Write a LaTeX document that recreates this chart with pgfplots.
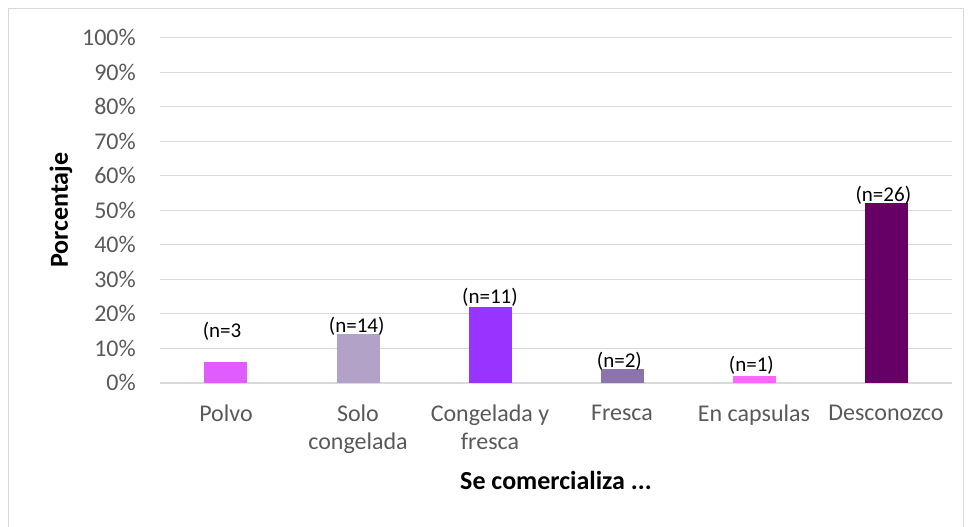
\documentclass[border=0pt]{standalone}
\usepackage{pgfplots}
\pgfplotsset{compat=1.18}
\usepackage{fontspec}
\setmainfont{Carlito}
\definecolor{cPolvo}{HTML}{E05CFF}
\definecolor{cSolo}{HTML}{B3A2C7}
\definecolor{cCong}{HTML}{9933FF}
\definecolor{cFres}{HTML}{8E74AD}
\definecolor{cCaps}{HTML}{FF66FF}
\definecolor{cDesc}{HTML}{660066}
\definecolor{gridc}{HTML}{D9D9D9}
\definecolor{tickc}{HTML}{595959}
\begin{document}
\begin{tikzpicture}[x=1bp,y=1bp]
\useasboundingbox (-160,-144.3) rectangle (811,382.7);
\draw[gridc, line width=1.2bp] (-151.5,-144.3) -- (-151.5,374) -- (803.5,374) -- (803.5,-144.3);
\begin{axis}[
  at={(0,0)}, anchor=south west,
  scale only axis, width=792bp, height=345bp,
  ymin=0, ymax=100, xmin=-0.5, xmax=5.5,
  ytick={0,10,...,100},
  yticklabels={0\%,10\%,20\%,30\%,40\%,50\%,60\%,70\%,80\%,90\%,100\%},
  xtick={0,1,2,3,4,5},
  xticklabels={Polvo, Solo\\congelada, Congelada y\\fresca, Fresca, En capsulas, Desconozco},
  major tick length=0,
  ymajorgrids, grid style={gridc, line width=1.2bp},
  axis x line*=bottom,
  axis y line*=left,
  x axis line style={draw=gridc, line width=1.8bp, -},
  y axis line style={draw=none},
  yticklabel style={anchor=east, inner sep=0pt, xshift=-24bp, text=tickc, font=\fontsize{24bp}{28bp}\selectfont},
  xticklabel style={anchor=north, inner sep=0pt, yshift=-22bp, text=tickc, align=center, font=\fontsize{24bp}{27.5bp}\selectfont},
  ybar, bar width=43bp,
  clip=false,
]
\addplot[fill=cPolvo, draw=none, bar shift=0pt] coordinates {(0,6)};
\addplot[fill=cSolo, draw=none, bar shift=0pt] coordinates {(1,14)};
\addplot[fill=cCong, draw=none, bar shift=0pt] coordinates {(2,22)};
\addplot[fill=cFres, draw=none, bar shift=0pt] coordinates {(3,4)};
\addplot[fill=cCaps, draw=none, bar shift=0pt] coordinates {(4,2)};
\addplot[fill=cDesc, draw=none, bar shift=0pt] coordinates {(5,52)};
\begin{scope}[every node/.style={anchor=base, inner sep=0pt, font=\fontsize{21bp}{25bp}\selectfont}]
\node at (axis cs:-0.03,13.1) {(n=3};
\node at (axis cs:0.99,14.6) {(n=14)};
\node at (axis cs:2,23) {(n=11)};
\node at (axis cs:2.98,4.5) {(n=2)};
\node at (axis cs:3.98,3.3) {(n=1)};
\node at (axis cs:4.98,52.5) {(n=26)};
\end{scope}
\end{axis}
\node[rotate=90, anchor=base, inner sep=0pt, font=\bfseries\fontsize{26bp}{30bp}\selectfont] at (-92,172.5) {Porcentaje};
\node[anchor=base, inner sep=0pt, font=\bfseries\fontsize{26bp}{30bp}\selectfont] at (396,-107.3) {Se comercializa ...};
\end{tikzpicture}
\end{document}
